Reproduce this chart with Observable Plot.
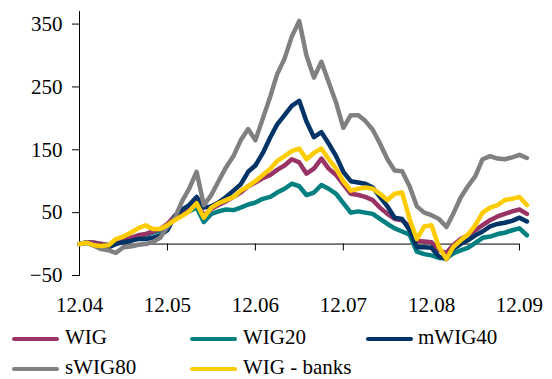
<!DOCTYPE html>
<html>
<head>
<meta charset="utf-8">
<script src="https://cdn.jsdelivr.net/npm/d3@7"></script>
<script src="https://cdn.jsdelivr.net/npm/@observablehq/plot@0.6"></script>
<style>
  body { margin: 0; background: #fff; }
  #wrap { position: relative; width: 552px; height: 379px; font-family: "Liberation Serif", "Tinos", "Times New Roman", Times, "Nimbus Roman", "DejaVu Serif", "Noto Serif", serif; }
  #wrap svg { display: block; }
  #wrap svg text { font-family: "Liberation Serif", "Tinos", "Times New Roman", Times, "Nimbus Roman", "DejaVu Serif", "Noto Serif", serif; }
  .sw { position: absolute; width: 47px; height: 4px; border-radius: 2px; }
  .lb { position: absolute; font-size: 21px; line-height: 21px; color: #000; white-space: nowrap; }
</style>
</head>
<body>
<div id="wrap"></div>
<script>
// Monthly points, Dec 2004 .. Jan 2010 (62 months), % change since Dec 2004
const seriesNames = ["WIG", "WIG20", "mWIG40", "sWIG80", "WIG - banks"];
const seriesColors = ["#993366", "#008080", "#003366", "#808080", "#FFCC00"];

const wig = [0,3,2,0,-2,4,6,10,14,16,20,24,32,45,52,58,68,45,56,62,68,75,82,92,98,105,110,118,125,135,130,112,120,136,120,110,95,80,78,75,70,58,48,40,38,28,5,4,3,-10,-14,-2,8,14,22,30,38,44,48,52,55,48];
const wig20 = [0,3,2,0,-2,3,5,8,12,15,18,22,28,42,48,52,58,35,48,52,55,54,58,63,66,72,75,82,88,96,92,78,82,94,88,80,65,50,52,50,48,40,32,25,20,15,-12,-16,-18,-22,-22,-15,-10,-6,2,10,12,16,18,22,25,14];
const mwig40 = [0,2,-2,-3,-5,0,3,5,8,8,10,14,22,45,55,62,75,58,60,66,75,85,95,115,125,145,170,190,205,220,228,195,170,178,160,140,115,100,98,96,90,75,60,42,40,22,-5,-5,-6,-20,-24,-8,0,6,14,20,28,32,34,37,42,36];
const swig80 = [0,2,-3,-8,-10,-14,-5,-4,-1,0,3,10,28,42,69,88,115,62,78,100,122,140,165,183,165,200,235,270,295,330,355,300,265,290,258,225,185,205,205,196,182,160,135,117,116,92,60,50,46,40,27,48,74,92,108,135,140,136,135,138,142,137];
const wigBanks = [0,2,-2,-3,-2,8,12,18,25,30,24,24,30,38,45,52,65,42,58,65,70,75,85,92,100,110,120,132,140,148,152,135,145,152,135,120,100,85,88,90,88,80,70,80,82,40,8,28,30,-5,-24,-5,6,15,30,50,58,62,70,72,75,62];
const yTicks = [-50, 50, 150, 250, 350];
const xTickLabels = ["12.04", "12.05", "12.06", "12.07", "12.08", "12.09"];

const seriesValues = [wig, wig20, mwig40, swig80, wigBanks];
const dates = d3.utcMonth.range(new Date(Date.UTC(2004, 11, 1)), new Date(Date.UTC(2010, 1, 1)));
const xTicks = xTickLabels.map(s => new Date(Date.UTC(2000 + +s.slice(3), +s.slice(0, 2) - 1, 1)));

const drawOrder = [1, 0, 2, 3, 4];
const rows = [];
for (const k of drawOrder) {
  seriesValues[k].forEach((v, i) => rows.push({date: dates[i], value: v, name: seriesNames[k]}));
}

const fmt = d3.utcFormat("%m.%y");
const chart = Plot.plot({
  width: 552,
  height: 320,
  marginLeft: 79,
  marginRight: 21,
  marginTop: 11,
  marginBottom: 45,
  style: {fontFamily: "'Liberation Serif', Tinos, 'Times New Roman', Times, 'DejaVu Serif', serif", fontSize: "21px", color: "#000", background: "#fff"},
  x: {type: "utc", domain: [new Date(Date.UTC(2004, 11, 1)), new Date(Date.UTC(2010, 0, 20))]},
  y: {domain: [-50, 370]},
  color: {domain: seriesNames, range: seriesColors},
  marks: [
    Plot.frame({anchor: "left", stroke: "#000", strokeWidth: 1}),
    Plot.axisY({ticks: yTicks, tickSize: 7, tickPadding: 10, label: null, fontSize: 21, stroke: "#000"}),
    Plot.axisX({ticks: xTicks, tickFormat: fmt, tickSize: 0, tickPadding: 22, label: null, fontSize: 21}),
    Plot.ruleY([0], {x1: xTicks[0], x2: xTicks[xTicks.length - 1], stroke: "#000", strokeWidth: 1}),
    Plot.ruleX(xTicks, {y1: 0, y2: -11, stroke: "#000", strokeWidth: 1}),
    Plot.line(rows, {x: "date", y: "value", z: "name", stroke: "name", strokeWidth: 4.5, strokeLinejoin: "round", strokeLinecap: "round"})
  ]
});

const wrap = document.getElementById("wrap");
wrap.appendChild(chart);

const legendPos = [
  {sx: 12, tx: 65, row: 0}, {sx: 190, tx: 243, row: 0}, {sx: 366, tx: 418, row: 0},
  {sx: 12, tx: 65, row: 1}, {sx: 190, tx: 243, row: 1}
];
seriesNames.forEach((n, i) => {
  const p = legendPos[i];
  const sw = document.createElement("div");
  sw.className = "sw";
  sw.style.left = p.sx + "px";
  sw.style.top = (337 + p.row * 30) + "px";
  sw.style.background = seriesColors[i];
  wrap.appendChild(sw);
  const lb = document.createElement("div");
  lb.className = "lb";
  lb.style.left = p.tx + "px";
  lb.style.top = (327 + p.row * 30) + "px";
  lb.textContent = n;
  wrap.appendChild(lb);
});
</script>
</body>
</html>
